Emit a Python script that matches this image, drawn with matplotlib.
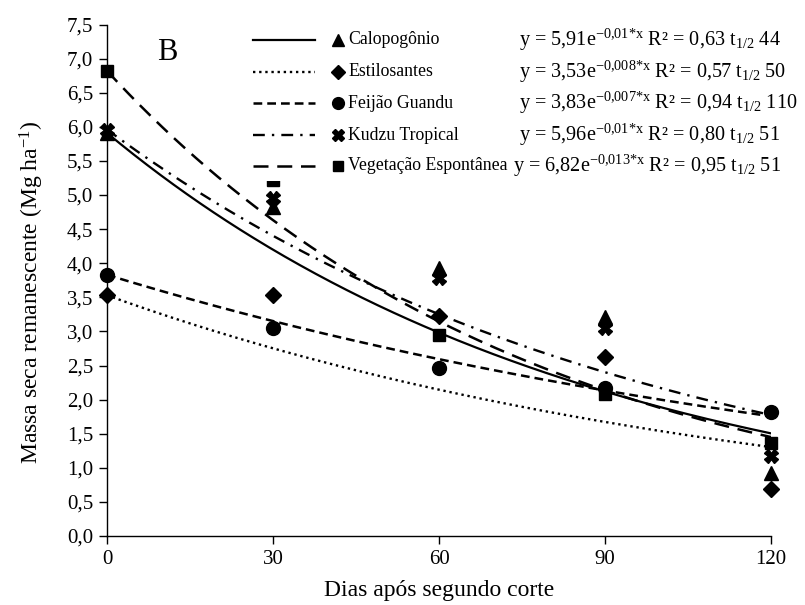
import numpy as np
import matplotlib
matplotlib.use("Agg")
import matplotlib.pyplot as plt
from matplotlib.lines import Line2D
from matplotlib.patches import Rectangle

plt.rcParams['font.family'] = ['Liberation Serif', 'DejaVu Serif']
plt.rcParams['mathtext.fontset'] = 'custom'
plt.rcParams['mathtext.rm'] = 'Liberation Serif'
plt.rcParams['mathtext.it'] = 'Liberation Serif:italic'
plt.rcParams['mathtext.bf'] = 'Liberation Serif:bold'

# dias após o segundo corte
dias = [0, 30, 60, 90, 120]

especies = ['Calopogônio', 'Estilosantes', 'Feijão Guandu', 'Kudzu Tropical',
            'Vegetação Espontânea']

# massa seca remanescente observada (Mg/ha)
calopogonio = [5.91, 4.82, 3.93, 3.21, 0.92]
estilosantes = [3.53, 3.53, 3.22, 2.62, 0.69]
feijao = [3.83, 3.05, 2.47, 2.17, 1.82]
kudzu = [5.96, 4.96, 3.78, 3.05, 1.17]
vegetacao = [6.82, 5.22, 2.95, 2.08, 1.36]
observado = [calopogonio, estilosantes, feijao, kudzu, vegetacao]

# modelo y = a*exp(-k*x)
a_coef = [5.91, 3.53, 3.83, 5.96, 6.82]
k_coef = [0.0114, 0.0083, 0.0065, 0.0101, 0.0129]

equacoes = [
    r'y = 5,91e$^{\mathrm{{-}0{,}01{*}x}}$ R² = 0,63 t$_{\mathrm{1/2}}$ 44',
    r'y = 3,53e$^{\mathrm{{-}0{,}008{*}x}}$ R² = 0,57 t$_{\mathrm{1/2}}$ 50',
    r'y = 3,83e$^{\mathrm{{-}0{,}007{*}x}}$ R² = 0,94 t$_{\mathrm{1/2}}$ 110',
    r'y = 5,96e$^{\mathrm{{-}0{,}01{*}x}}$ R² = 0,80 t$_{\mathrm{1/2}}$ 51',
    r'y = 6,82e$^{\mathrm{{-}0{,}013{*}x}}$ R² = 0,95 t$_{\mathrm{1/2}}$ 51',
]

marcadores = ['^', 'D', 'o', 'X', 's']
tam_marc = [10, 8, 10, 10, 9]
estilos = ['-', (0, (1, 1.6)), (0, (3.5, 2)), (0, (5, 3, 1, 3)), (0, (6, 3.5))]
larguras = [1.6, 1.7, 1.8, 1.7, 1.8]

W, H = 805, 605
fig = plt.figure(figsize=(W / 100, H / 100), dpi=100)
ax = fig.add_axes([107 / W, 1 - 536 / H, 664 / W, 511.5 / H])

xs = np.linspace(0, 120, 300)
for obs, a, k, mk, ms, ls, lw in zip(observado, a_coef, k_coef, marcadores,
                                      tam_marc, estilos, larguras):
    ax.plot(xs, a * np.exp(-k * xs), color='black', linestyle=ls, lw=lw,
            zorder=2)
    ax.plot(dias, obs, linestyle='none', marker=mk, ms=ms, color='black',
            clip_on=False, zorder=3)

ax.set_xlim(0, 120)
ax.set_ylim(0, 7.5)
ax.set_xticks(dias)
yt = np.arange(0, 7.51, 0.5)
ax.set_yticks(yt)
ax.set_yticklabels([f'{v:.1f}'.replace('.', ',') for v in yt])
ax.tick_params(direction='out', length=6, width=1, labelsize=15, pad=4,
               colors='black')
for s in ['top', 'right']:
    ax.spines[s].set_visible(False)
for s in ['left', 'bottom']:
    ax.spines[s].set_linewidth(1)

ax.set_xlabel('Dias após segundo corte', fontsize=17, labelpad=8)
ax.set_ylabel(r'Massa seca remanescente (Mg ha$^{\mathrm{{-}1}}$)', fontsize=17)
ax.yaxis.set_label_coords(-0.092, 0.477)

ax.text(167 / W, 1 - 52 / H, 'B', transform=fig.transFigure, fontsize=22,
        ha='center', va='center')

# legenda montada à mão
fig.add_artist(Rectangle((248 / W, 1 - 181 / H), 557 / W, 159 / H,
                         transform=fig.transFigure, facecolor='white',
                         edgecolor='none', zorder=4))
linhas_y = [40, 72, 103, 135, 166]
eq_x = [519, 519, 519, 519, 513]
for i, yp in enumerate(linhas_y):
    yf = 1 - yp / H
    fig.add_artist(Line2D([253 / W, 315 / W], [yf, yf], color='black',
                          linestyle=estilos[i], lw=larguras[i],
                          transform=fig.transFigure, zorder=5))
    fig.add_artist(Line2D([338 / W], [yf], marker=marcadores[i],
                          ms=tam_marc[i] * 0.85, color='black',
                          transform=fig.transFigure, zorder=5))
    fig.text(348 / W, yf, especies[i], fontsize=12.8, va='center', zorder=6)
    fig.text(eq_x[i] / W, yf, equacoes[i], fontsize=14.6, va='center', zorder=6)

fig.savefig('out.png', dpi=100)
